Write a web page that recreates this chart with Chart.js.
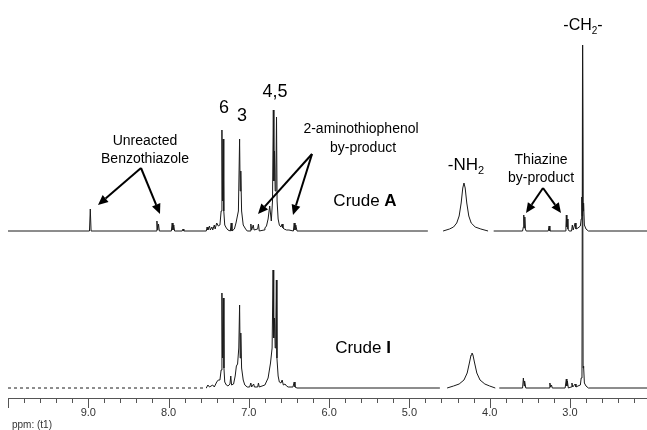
<!DOCTYPE html>
<html>
<head>
<meta charset="utf-8">
<script src="https://cdn.jsdelivr.net/npm/chart.js@4.4.1/dist/chart.umd.min.js"></script>
<style>
  html, body { margin: 0; padding: 0; background: #fff; }
</style>
</head>
<body>
<canvas id="nmr" width="647" height="430"></canvas>
<script>
// 1H NMR traces: shift (ppm) and height above each trace's own baseline
// null = gap in the trace (cut-out region)
const crudeAPpm = [
  10.0, 8.985, 8.975, 8.965,
  8.155, 8.145, 8.135, 8.125, 8.115,
  7.965, 7.955, 7.945, 7.935, 7.925,
  7.83, 7.82, 7.81,
  7.53, 7.52, 7.51, 7.49, 7.48, 7.46, 7.45, 7.43, 7.42, 7.40, 7.38,
  7.36, 7.345, 7.335, 7.328, 7.32, 7.312, 7.30, 7.28, 7.26,
  7.23, 7.22, 7.21,
  7.18, 7.16, 7.13, 7.115, 7.108, 7.10, 7.09, 7.07, 7.04, 7.02,
  6.985, 6.975, 6.965, 6.945, 6.935, 6.89, 6.88, 6.87,
  6.81, 6.80, 6.78, 6.76, 6.74, 6.72, 6.705, 6.695, 6.688, 6.68, 6.672, 6.662, 6.655, 6.648, 6.635, 6.62,
  6.60, 6.585, 6.575, 6.56, 6.53, 6.50,
  6.445, 6.435, 6.425, 6.415, 6.40,
  4.77, 4.70,
  4.58, 4.50, 4.45, 4.41, 4.38, 4.355, 4.335, 4.32, 4.305, 4.285, 4.26, 4.23, 4.18, 4.11, 4.02,
  3.98,
  3.95, 3.59, 3.58, 3.575, 3.568, 3.562, 3.555, 3.545,
  3.27, 3.26, 3.25,
  3.06, 3.05, 3.045, 3.038, 3.032, 3.025, 3.01,
  2.98, 2.97, 2.96, 2.935, 2.925, 2.90, 2.87, 2.86, 2.852, 2.848, 2.842, 2.836, 2.83, 2.82, 2.80, 2.77,
  2.04
];
const crudeAInt = [
  0, 0, 22, 0,
  0, 10, 1, 7, 0,
  0, 8, 1, 6, 0,
  0, 2, 0,
  0, 4, 1, 5, 1, 4, 1, 6, 2, 8, 5,
  6, 20, 101, 30, 92, 20, 6, 3, 1,
  0, 8, 0,
  2, 8, 20, 92, 40, 60, 20, 6, 2, 0,
  0, 7, 1, 6, 1, 2, 7, 0,
  1, 3, 5, 12, 25, 10, 30, 121, 50, 80, 40, 60, 114, 30, 12, 6,
  4, 7, 3, 2, 1, 1,
  0, 8, 1, 6, 0,
  0, null,
  0, 2, 4, 8, 15, 28, 43, 48, 43, 28, 15, 8, 4, 2, 0,
  null,
  0, 0, 4, 16, 3, 14, 2, 0,
  0, 5, 0,
  0, 4, 16, 4, 12, 2, 0,
  0, 6, 1, 8, 2, 3, 5, 12, 34, 15, 186, 20, 28, 6, 2, 0,
  0
];

const crudeIPpm = [
  10.0, 7.53, 7.51, 7.49, 7.45, 7.43, 7.40, 7.38, 7.36,
  7.345, 7.335, 7.328, 7.318, 7.31, 7.30, 7.28, 7.26,
  7.235, 7.225, 7.215, 7.19, 7.17, 7.155, 7.14, 7.125, 7.115, 7.108, 7.10, 7.09, 7.07, 7.05, 7.02,
  6.99, 6.975, 6.965, 6.94, 6.93, 6.89, 6.88, 6.87,
  6.80, 6.76, 6.73, 6.71, 6.698, 6.69, 6.68, 6.672, 6.664, 6.657, 6.65, 6.635, 6.62,
  6.60, 6.585, 6.57, 6.55, 6.53, 6.51, 6.45, 6.435, 6.425, 6.40,
  4.62, 4.58,
  4.53, 4.45, 4.38, 4.32, 4.28, 4.25, 4.232, 4.22, 4.208, 4.19, 4.16, 4.12, 4.06, 4.00, 3.93,
  3.90,
  3.88, 3.59, 3.58, 3.57, 3.565, 3.55,
  3.26, 3.25, 3.24, 3.23, 3.22,
  3.06, 3.045, 3.038, 3.032, 3.02,
  2.985, 2.975, 2.965, 2.935, 2.925, 2.90, 2.87, 2.86, 2.85, 2.843, 2.836, 2.83, 2.82, 2.80, 2.77,
  2.04
];
const crudeIInt = [
  0, 0, 3, 1, 3, 1, 6, 8, 8,
  18, 95, 30, 90, 20, 6, 3, 2,
  4, 12, 3, 4, 12, 22, 24, 40, 83, 30, 55, 20, 8, 3, 1,
  1, 5, 1, 4, 1, 1, 5, 1,
  3, 10, 25, 40, 118, 50, 70, 40, 60, 108, 30, 12, 6,
  5, 8, 3, 4, 2, 1, 1, 6, 1, 0,
  0, null,
  0, 2, 4, 8, 15, 26, 33, 35, 33, 26, 15, 8, 4, 2, 0,
  null,
  0, 0, 10, 2, 7, 0,
  0, 5, 1, 3, 0,
  0, 9, 2, 7, 0,
  1, 5, 1, 4, 1, 2, 3, 10, 14, 343, 20, 22, 5, 2, 0,
  0
];

const xLabels = [9.0, 8.0, 7.0, 6.0, 5.0, 4.0, 3.0];

// vertical offsets of the two stacked traces (pixels above the axis line)
const offsetA = 167;
const offsetI = 10;
const dashedI = [[10.0, 8.85], [6.02, 5.75]];

const FONT = '"Liberation Sans", Arial, sans-serif';

function toPoints(ppm, vals, offset) {
  return ppm.map((p, i) => ({ x: p, y: vals[i] === null ? null : vals[i] + offset }));
}

function inRange(v, ranges) {
  return ranges.some(r => v <= r[0] && v >= r[1]);
}

function arrow(ctx, x0, y0, x1, y1) {
  const a = Math.atan2(y1 - y0, x1 - x0);
  const len = 10, half = 4.5;
  const bx = x1 - len * Math.cos(a), by = y1 - len * Math.sin(a);
  ctx.beginPath();
  ctx.moveTo(x0, y0);
  ctx.lineTo(bx, by);
  ctx.stroke();
  ctx.beginPath();
  ctx.moveTo(x1, y1);
  ctx.lineTo(bx + half * Math.sin(a), by - half * Math.cos(a));
  ctx.lineTo(bx - half * Math.sin(a), by + half * Math.cos(a));
  ctx.closePath();
  ctx.fill();
}

// draws a run of text pieces [text, size, weight, dy]
function runs(ctx, parts, x, y, align) {
  let w = 0;
  parts.forEach(p => { ctx.font = `${p[2] || 'normal'} ${p[1]}px ${FONT}`; w += ctx.measureText(p[0]).width; });
  let cx = align === 'center' ? x - w / 2 : x;
  parts.forEach(p => {
    ctx.font = `${p[2] || 'normal'} ${p[1]}px ${FONT}`;
    ctx.textAlign = 'left';
    ctx.fillText(p[0], cx, y + (p[3] || 0));
    cx += ctx.measureText(p[0]).width;
  });
}

const decorations = {
  id: 'decorations',
  afterDraw(chart) {
    const ctx = chart.ctx;
    const xs = chart.scales.x;
    const axisY = chart.chartArea.bottom;
    ctx.save();

    // axis tick marks every 0.2 ppm, longer at whole ppm
    ctx.strokeStyle = '#555';
    ctx.lineWidth = 1;
    for (let i = 10; i <= 50; i++) {
      const v = i / 5;
      if (v < xs.min || v > xs.max) continue;
      const x = Math.round(xs.getPixelForValue(v)) + 0.5;
      const len = i % 5 === 0 ? 10 : 5;
      ctx.beginPath();
      ctx.moveTo(x, axisY);
      ctx.lineTo(x, axisY + len);
      ctx.stroke();
    }

    ctx.fillStyle = '#333';
    ctx.textBaseline = 'alphabetic';
    runs(ctx, [['ppm: (t1)', 10]], 12, 428, 'left');

    ctx.fillStyle = '#000';
    runs(ctx, [['Unreacted', 14]], 145, 145, 'center');
    runs(ctx, [['Benzothiazole', 14]], 145, 163, 'center');
    runs(ctx, [['2-aminothiophenol', 14]], 361, 133, 'center');
    runs(ctx, [['by-product', 14]], 363, 152, 'center');
    runs(ctx, [['Thiazine', 14]], 541, 164, 'center');
    runs(ctx, [['by-product', 14]], 541, 182, 'center');

    runs(ctx, [['6', 18]], 224, 113, 'center');
    runs(ctx, [['3', 18]], 242, 121, 'center');
    runs(ctx, [['4,5', 18]], 275, 97, 'center');

    runs(ctx, [['-NH', 17], ['2', 11, 'normal', 4]], 466, 170, 'center');
    runs(ctx, [['-CH', 16], ['2', 10, 'normal', 4], ['-', 16]], 583, 30, 'center');

    runs(ctx, [['Crude ', 17], ['A', 17, 'bold']], 365, 206, 'center');
    runs(ctx, [['Crude ', 17], ['I', 17, 'bold']], 363, 353, 'center');

    ctx.strokeStyle = '#000';
    ctx.lineWidth = 2;
    arrow(ctx, 141, 168, 98, 205);
    arrow(ctx, 141, 168, 160, 214);
    arrow(ctx, 312, 154, 258, 214);
    arrow(ctx, 312, 154, 293, 215);
    arrow(ctx, 543, 188, 526, 213);
    arrow(ctx, 543, 188, 561, 213);

    ctx.restore();
  }
};

const lineStyle = {
  borderColor: '#1a1a1a',
  borderWidth: 1,
  pointRadius: 0,
  tension: 0,
  spanGaps: false,
  fill: false
};

new Chart(document.getElementById('nmr'), {
  type: 'line',
  data: {
    datasets: [
      Object.assign({ label: 'Crude A', data: toPoints(crudeAPpm, crudeAInt, offsetA) }, lineStyle),
      Object.assign({
        label: 'Crude I',
        data: toPoints(crudeIPpm, crudeIInt, offsetI),
        segment: { borderDash: c => inRange(c.p0.parsed.x, dashedI) ? [3, 3] : undefined }
      }, lineStyle)
    ]
  },
  options: {
    responsive: false,
    animation: false,
    layout: { padding: { left: 8, right: 0, top: 0, bottom: 0 } },
    plugins: { legend: { display: false }, tooltip: { enabled: false } },
    scales: {
      x: {
        type: 'linear',
        reverse: true,
        min: 2.04,
        max: 10.0,
        grid: { display: false, drawTicks: false },
        border: { display: true, color: '#555', width: 1 },
        afterBuildTicks: s => { s.ticks = xLabels.map(v => ({ value: v })); },
        afterFit: s => { s.height = 32; },
        ticks: {
          autoSkip: false,
          maxRotation: 0,
          padding: 8,
          color: '#333',
          font: { family: FONT, size: 11 },
          callback: v => Number(v).toFixed(1)
        }
      },
      y: { display: false, min: 0, max: 398 }
    }
  },
  plugins: [decorations]
});
</script>
</body>
</html>
